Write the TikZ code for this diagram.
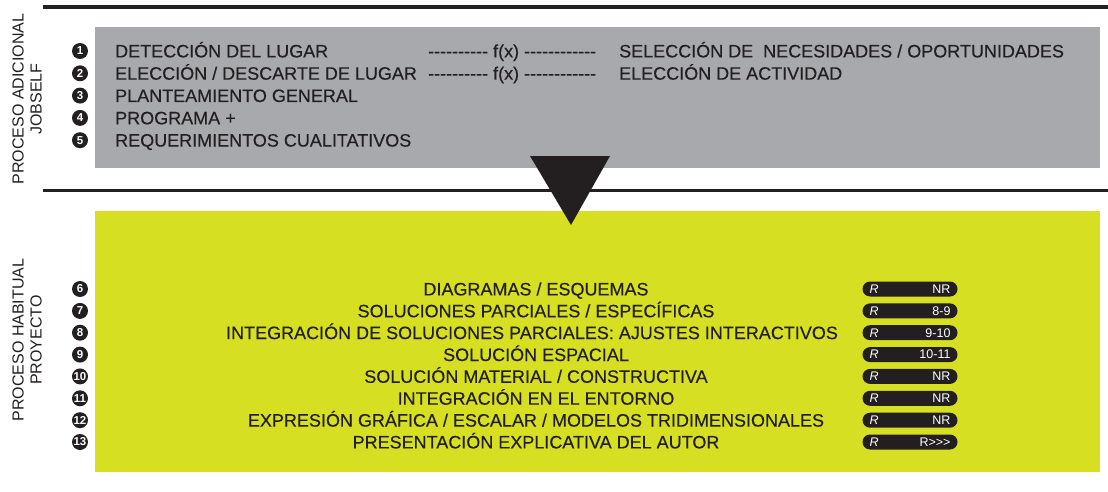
\documentclass[tikz,border=0pt]{standalone}
\usepackage{fontspec}
\setmainfont{Liberation Sans}
\newfontfamily\bodyfont{Liberation Sans}[FakeBold=0.3]
\definecolor{ink}{HTML}{231F20}
\definecolor{boxgray}{HTML}{A7A9AC}
\definecolor{limefill}{HTML}{D7DF23}
\newcommand{\hy}{\mbox{-}}
\newcommand{\hyfive}{\hy\hy\hy\hy\hy}
\newcommand{\gt}{\mbox{>}}
\begin{document}
\begin{tikzpicture}[x=1pt,y=-1pt,
    num/.style={circle,fill=ink,text=white,inner sep=0pt,minimum size=16pt,
      font=\bfseries\fontsize{11.5}{11.5}\selectfont},
    txt/.style={anchor=base west,inner sep=0pt,text=ink,font=\bodyfont\fontsize{18}{20}\selectfont},
    ctxt/.style={anchor=base,inner sep=0pt,text=ink,font=\bodyfont\fontsize{18}{20}\selectfont},
    badge/.style={fill=ink,text=white,rounded corners=7.5pt,inner sep=0pt,
      minimum width=95pt,minimum height=15pt,font=\fontsize{12.5}{12.5}\selectfont},
    sidelabel/.style={rotate=90,align=center,text=ink,font=\fontsize{16}{18}\selectfont}]
\useasboundingbox (0,0) rectangle (1108,492);
% bands
\fill[boxgray] (95,27) rectangle (1100,168);
\fill[limefill] (95,211) rectangle (1100,472);
\draw[ink,line width=3.5pt] (43,7) -- (1108,7);
\draw[ink,line width=3.5pt] (43,190.5) -- (1108,190.5);
\fill[ink] (530,156) -- (610,156) -- (571,225) -- cycle;
% side labels
\node[sidelabel] (adicional) at (27,99) {PROCESO ADICIONAL\\JOBSELF};
\node[sidelabel] (habitual) at (27,340) {PROCESO HABITUAL\\PROYECTO};
% proceso adicional
\node[num] (n1) at (80,51) {1};
\node[num] (n2) at (80,73.3) {2};
\node[num] (n3) at (80,95.6) {3};
\node[num] (n4) at (80,117.9) {4};
\node[num] (n5) at (80,140.2) {5};
\node[txt] (t1) at (115,57.4) {DETECCIÓN DEL LUGAR};
\node[txt] (t2) at (115,79.7) {ELECCIÓN / DESCARTE DE LUGAR};
\node[txt] (t3) at (115,102) {PLANTEAMIENTO GENERAL};
\node[txt] (t4) at (115,124.3) {PROGRAMA +};
\node[txt] (t5) at (115,146.6) {REQUERIMIENTOS CUALITATIVOS};
\node[txt] (f1) at (428,57.4) {\hyfive\hyfive{} f(x) \hyfive\hyfive\hy\hy};
\node[txt] (f2) at (428,79.7) {\hyfive\hyfive{} f(x) \hyfive\hyfive\hy\hy};
\node[txt] (s1) at (619,57.4) {SELECCIÓN DE\ \ NECESIDADES / OPORTUNIDADES};
\node[txt] (s2) at (619,79.7) {ELECCIÓN DE ACTIVIDAD};
% proceso habitual
\node[num] (n6) at (80,289) {6};
\node[num] (n7) at (80,310.9) {7};
\node[num] (n8) at (80,332.7) {8};
\node[num] (n9) at (80,354.6) {9};
\node[num] (n10) at (80,376.4) {10};
\node[num] (n11) at (80,398.3) {11};
\node[num] (n12) at (80,420.2) {12};
\node[num] (n13) at (80,442) {13};
\node[ctxt] (t6) at (536,295.4) {DIAGRAMAS / ESQUEMAS};
\node[ctxt] (t7) at (536,317.3) {SOLUCIONES PARCIALES / ESPECÍFICAS};
\node[ctxt] (t8) at (532,339.1) {INTEGRACIÓN DE SOLUCIONES PARCIALES: AJUSTES INTERACTIVOS};
\node[ctxt] (t9) at (536,361) {SOLUCIÓN ESPACIAL};
\node[ctxt] (t10) at (536,382.8) {SOLUCIÓN MATERIAL / CONSTRUCTIVA};
\node[ctxt] (t11) at (536,404.7) {INTEGRACIÓN EN EL ENTORNO};
\node[ctxt] (t12) at (536,426.6) {EXPRESIÓN GRÁFICA / ESCALAR / MODELOS TRIDIMENSIONALES};
\node[ctxt] (t13) at (536,448.4) {PRESENTACIÓN EXPLICATIVA DEL AUTOR};
\node[badge] (b6) at (910,289) {\makebox[81pt]{\textit{R}\hfill NR}};
\node[badge] (b7) at (910,310.9) {\makebox[81pt]{\textit{R}\hfill 8-9}};
\node[badge] (b8) at (910,332.7) {\makebox[81pt]{\textit{R}\hfill 9-10}};
\node[badge] (b9) at (910,354.6) {\makebox[81pt]{\textit{R}\hfill 10-11}};
\node[badge] (b10) at (910,376.4) {\makebox[81pt]{\textit{R}\hfill NR}};
\node[badge] (b11) at (910,398.3) {\makebox[81pt]{\textit{R}\hfill NR}};
\node[badge] (b12) at (910,420.2) {\makebox[81pt]{\textit{R}\hfill NR}};
\node[badge] (b13) at (910,442) {\makebox[81pt]{\textit{R}\hfill R\gt\gt\gt}};
\end{tikzpicture}
\end{document}
